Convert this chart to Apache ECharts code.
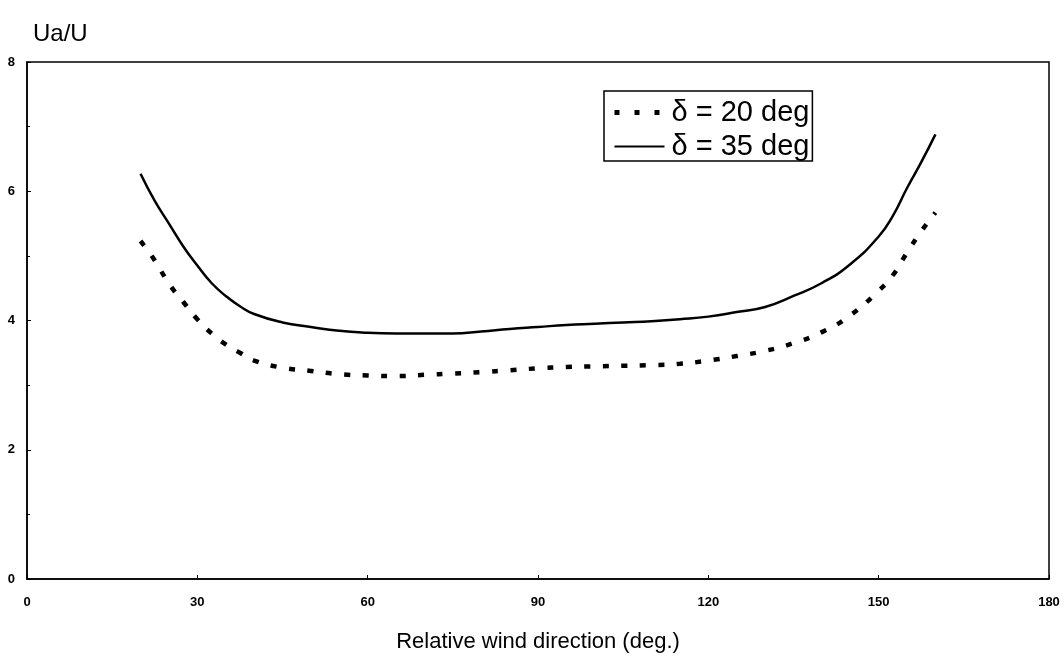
<!DOCTYPE html>
<html>
<head>
<meta charset="utf-8">
<script src="https://cdn.jsdelivr.net/npm/echarts@6/dist/echarts.min.js"></script>
<style>html,body{margin:0;padding:0;background:#fff;}#c{width:1064px;height:658px;}</style>
</head>
<body>
<div id="c"></div>
<script>
// Relative wind direction (deg.)
const angles35 = [20,22.5,25,27.5,30,32.5,35,37.5,40,45,50,55,60,65,70,75,80,85,90,95,100,105,110,115,120,125,130,135,140,145,150,152.5,155,157.5,160];
const ua35     = [6.27,5.85,5.50,5.15,4.85,4.58,4.38,4.22,4.10,3.97,3.90,3.84,3.81,3.80,3.80,3.80,3.83,3.87,3.90,3.93,3.95,3.97,3.99,4.02,4.06,4.13,4.21,4.38,4.58,4.87,5.30,5.62,6.05,6.45,6.88];
const angles20 = [20,22.5,25,27.5,30,32.5,35,37.5,40,45,50,55,60,65,70,75,80,85,90,95,100,105,110,115,120,125,130,135,140,145,150,152.5,155,157.5,160];
const ua20     = [5.23,4.93,4.57,4.29,4.02,3.80,3.63,3.50,3.38,3.27,3.22,3.17,3.15,3.14,3.16,3.18,3.20,3.23,3.26,3.28,3.29,3.30,3.31,3.33,3.38,3.45,3.53,3.65,3.82,4.08,4.46,4.70,5.05,5.38,5.67];
const xTicks = [0,30,60,90,120,150,180];
const yTicks = [0,2,4,6,8];
const seriesNames = ['\u03b4 = 20 deg','\u03b4 = 35 deg'];
const yTitle = 'Ua/U';
const xTitle = 'Relative wind direction (deg.)';

const pairs = (xs, ys) => xs.map((x, i) => [x, ys[i]]);
const chart = echarts.init(document.getElementById('c'));
chart.setOption({
  animation: false,
  backgroundColor: '#fff',
  textStyle: { fontFamily: 'Liberation Sans, Arial, sans-serif', color: '#000' },
  grid: { left: 27, right: 15, top: 62, bottom: 70, show: true, borderColor: '#000', borderWidth: 1.5 },
  title: { text: yTitle, left: 28, top: 17, textStyle: { fontSize: 24, fontWeight: 'normal', color: '#000', fontFamily: 'Liberation Sans, Arial, sans-serif' } },
  legend: {
    orient: 'vertical', left: 604, top: 91,
    data: [
      { name: seriesNames[0], lineStyle: { width: 5, type: [5, 15] } },
      { name: seriesNames[1], lineStyle: { width: 2 } }
    ],
    itemWidth: 50, itemHeight: 28, itemGap: 5,
    padding: [7, 3, 0, 8],
    borderColor: '#000', borderWidth: 1.5,
    itemStyle: { opacity: 0 },
    textStyle: { fontSize: 29, color: '#000', padding: [0, 0, 0, 2], fontFamily: 'Liberation Sans, Arial, sans-serif' }
  },
  xAxis: {
    type: 'value', min: xTicks[0], max: xTicks[xTicks.length - 1], interval: 30,
    name: xTitle, nameLocation: 'middle', nameGap: 52,
    nameTextStyle: { fontSize: 22, color: '#000' },
    axisLine: { show: true, lineStyle: { color: '#000', width: 1.5 } },
    axisTick: { show: true, inside: true, length: 4, lineStyle: { color: '#000' } },
    axisLabel: { fontSize: 13, fontWeight: 'bold', color: '#000', margin: 17 },
    splitLine: { show: false }
  },
  yAxis: {
    type: 'value', min: yTicks[0], max: yTicks[yTicks.length - 1], interval: 2,
    axisLine: { show: true, lineStyle: { color: '#000', width: 1.5 } },
    axisTick: { show: true, inside: true, length: 4, lineStyle: { color: '#000' } },
    minorTick: { show: true, splitNumber: 2, length: 3, lineStyle: { color: '#000' } },
    axisLabel: { fontSize: 13, fontWeight: 'bold', color: '#000', margin: 12 },
    splitLine: { show: false }
  },
  series: [
    {
      name: seriesNames[0], type: 'line', smooth: true, symbol: 'none',
      data: pairs(angles20, ua20),
      lineStyle: { color: '#000', width: 4.5, type: [6, 12.5] },
      itemStyle: { color: '#000' }
    },
    {
      name: seriesNames[1], type: 'line', smooth: true, symbol: 'none',
      data: pairs(angles35, ua35),
      lineStyle: { color: '#000', width: 2.5 },
      itemStyle: { color: '#000' }
    }
  ]
});
</script>
</body>
</html>
